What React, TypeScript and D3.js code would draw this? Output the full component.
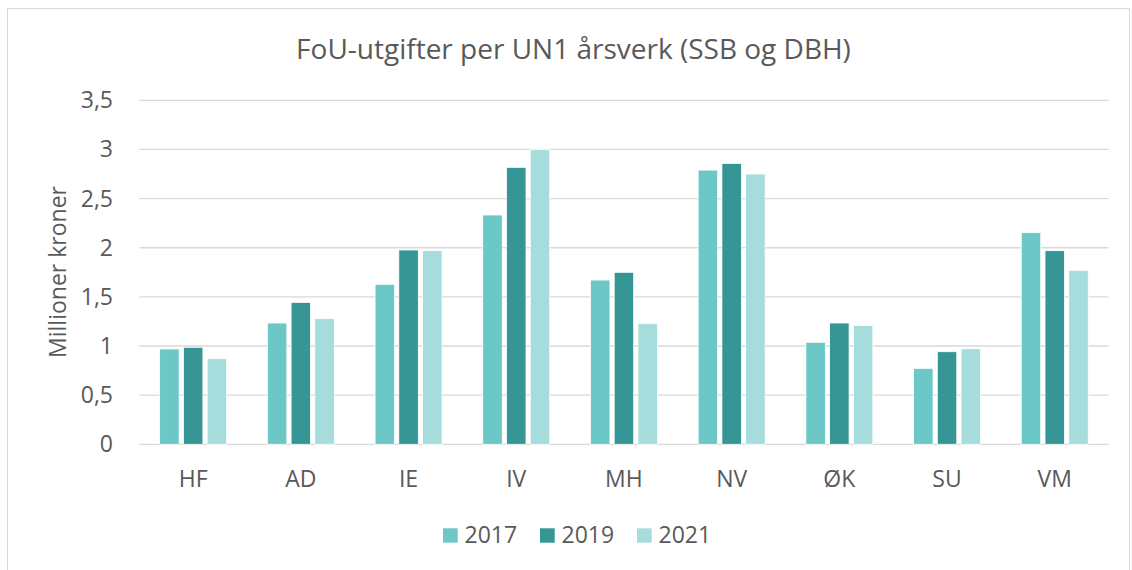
import React from "react";
import * as d3 from "d3";

const categories = ["HF", "AD", "IE", "IV", "MH", "NV", "ØK", "SU", "VM"];
const seriesNames = ["2017", "2019", "2021"];
const values2017 = [0.97, 1.234, 1.628, 2.333, 1.671, 2.79, 1.038, 0.773, 2.153];
const values2019 = [0.987, 1.444, 1.977, 2.818, 1.75, 2.858, 1.234, 0.942, 1.97];
const values2021 = [0.871, 1.278, 1.97, 3.0, 1.227, 2.75, 1.21, 0.972, 1.77];
const yTicks = [0, 0.5, 1, 1.5, 2, 2.5, 3, 3.5];
const colors = ["#6BC8C6", "#369595", "#A7DCDC"];

const W = 1132;
const H = 570;
const font = "'Open Sans', sans-serif";
const textColor = "#595959";

export default function App() {
  const series = [values2017, values2019, values2021];
  const x = d3.scaleBand<string>().domain(categories).range([139.3, 1108.6]).paddingInner(0).paddingOuter(0);
  const inner = d3
    .scaleBand<string>()
    .domain(seriesNames)
    .range([0, x.bandwidth()])
    .paddingInner(0.179)
    .paddingOuter(0.857);
  const y = d3.scaleLinear().domain([0, 3.5]).range([444.3, 100.3]);
  const fmt = (v: number) => String(v).replace(".", ",");

  return (
    <div style={{ position: "absolute", left: 0, top: 0 }}>
      <svg width={W} height={H} style={{ display: "block", background: "#fff" }}>
        <rect x={7.5} y={8.5} width={1122} height={570} fill="#fff" stroke="#D9D9D9" strokeWidth={1} />
        <text x={573.5} y={59} textAnchor="middle" fontFamily={font} fontSize={28} fill={textColor}>
          FoU-utgifter per UN1 årsverk (SSB og DBH)
        </text>
        {yTicks.map((t) => (
          <g key={t}>
            <line x1={x.range()[0]} x2={x.range()[1]} y1={y(t)} y2={y(t)} stroke="#D9D9D9" strokeWidth={1.3} />
            <text x={113} y={y(t)} dy="0.35em" textAnchor="end" fontFamily={font} fontSize={23} fill={textColor}>
              {fmt(t)}
            </text>
          </g>
        ))}
        {series.map((vals, si) =>
          vals.map((v, ci) => (
            <rect
              key={`${si}-${ci}`}
              x={(x(categories[ci]) as number) + (inner(seriesNames[si]) as number)}
              y={y(v)}
              width={inner.bandwidth()}
              height={y(0) - y(v)}
              fill={colors[si]}
              stroke="#fff"
              strokeWidth={0.8}
            />
          ))
        )}
        {categories.map((c) => (
          <text
            key={c}
            x={(x(c) as number) + x.bandwidth() / 2}
            y={487}
            textAnchor="middle"
            fontFamily={font}
            fontSize={23}
            fill={textColor}
          >
            {c}
          </text>
        ))}
        <text
          transform={`translate(66,${272}) rotate(-90)`}
          textAnchor="middle"
          fontFamily={font}
          fontSize={23}
          fill={textColor}
        >
          Millioner kroner
        </text>
        {seriesNames.map((s, i) => {
          const lx = [443, 540, 637][i];
          return (
            <g key={s}>
              <rect x={lx} y={528.3} width={14.7} height={14.4} fill={colors[i]} />
              <text x={lx + 21.5} y={542.7} fontFamily={font} fontSize={23} fill={textColor}>
                {s}
              </text>
            </g>
          );
        })}
      </svg>
    </div>
  );
}
